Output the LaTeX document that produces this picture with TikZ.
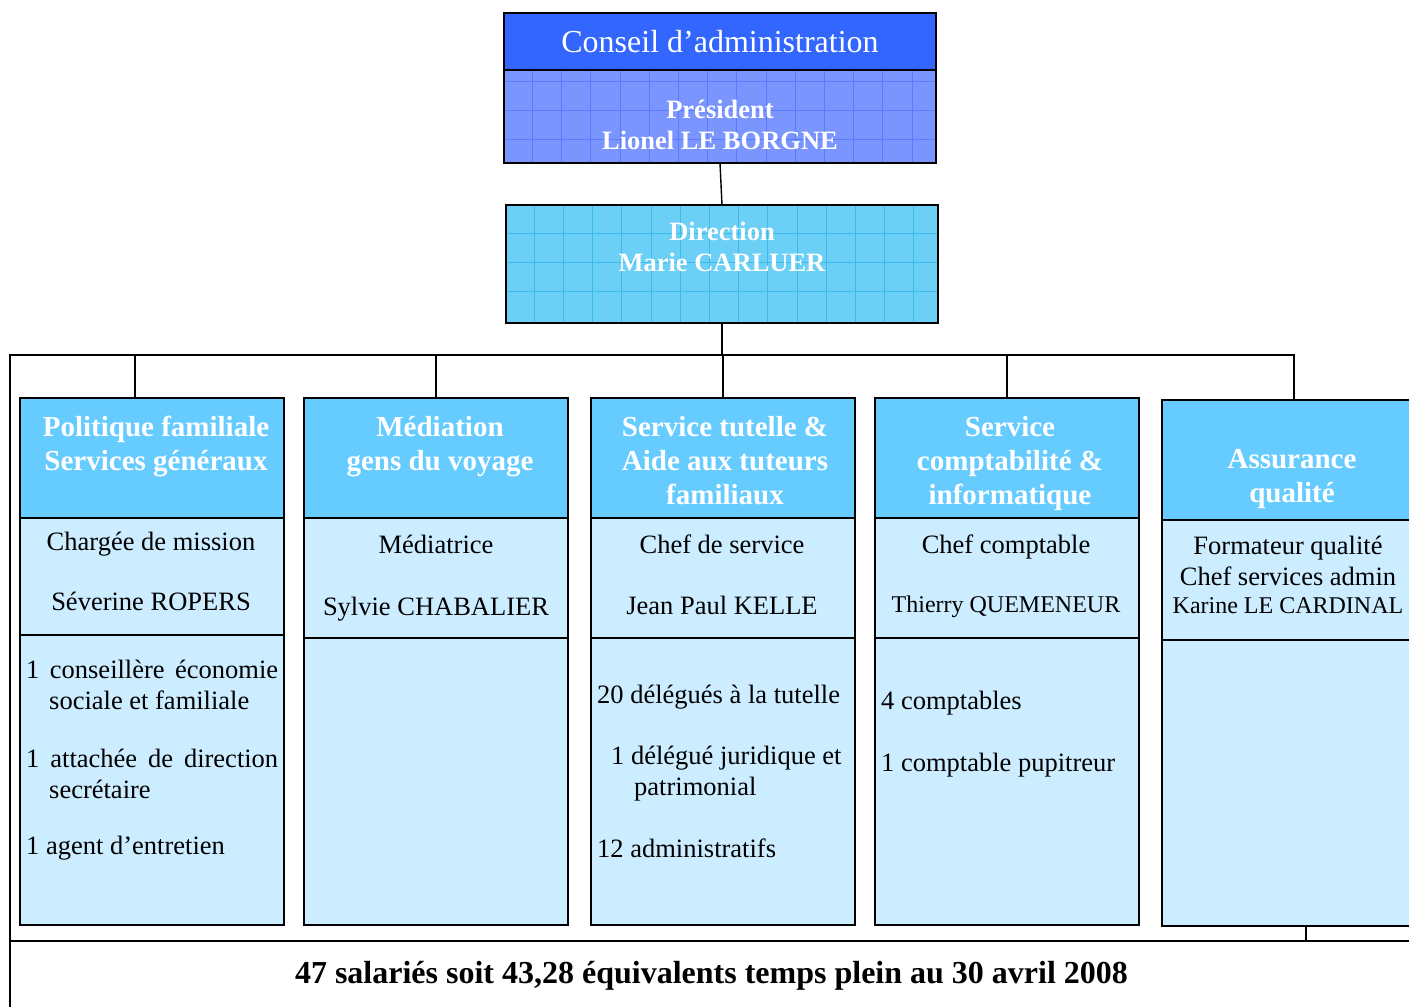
\documentclass[tikz,border=0pt]{standalone}
\usepackage{fontspec}
\setmainfont{Liberation Serif}
\usetikzlibrary{positioning}

\definecolor{conseilblue}{HTML}{3366FF}
\definecolor{presblue}{HTML}{7B95FF}
\definecolor{presgrid}{HTML}{5A7BFF}
\definecolor{dirblue}{HTML}{6CCFF6}
\definecolor{dirgrid}{HTML}{3DB9EA}
\definecolor{headblue}{HTML}{66CCFF}
\definecolor{bodyblue}{HTML}{CCECFF}

\newcommand{\bodyfont}{\fontsize{26.5}{31}\selectfont}
\newcommand{\headfont}{\fontsize{29}{34}\selectfont\bfseries}
\newcommand{\topfont}{\fontsize{26.5}{31}\selectfont\bfseries}
\newcommand{\smallname}{\fontsize{24}{31}\selectfont}

\tikzset{box/.style={draw, line width=1.8pt, inner sep=0pt, outer sep=0pt, anchor=north west}}
\tikzset{head/.style={box, fill=headblue, minimum width=264pt, minimum height=120pt}}
\tikzset{body/.style={box, fill=bodyblue, minimum width=264pt}}
\tikzset{htxt/.style={inner sep=0pt, font=\headfont, text=white, align=center, anchor=base}}
\tikzset{txt/.style={inner sep=0pt, font=\bodyfont, align=center, anchor=base}}
\tikzset{ltxt/.style={inner sep=0pt, font=\bodyfont, align=left, anchor=base west}}
\tikzset{wire/.style={line width=1.4pt}}

\begin{document}
\begin{tikzpicture}[x=1pt, y=-1pt]
\useasboundingbox (0,0) rectangle (1409,1007);
\clip (0,0) rectangle (1409,1007);

% top of the chart
\node[box, fill=conseilblue, minimum width=432pt, minimum height=57pt, text=white,
  font=\fontsize{32}{36}\selectfont] (conseil) at (504,13) {Conseil d’administration};
\node[box, fill=presblue, minimum width=432pt, minimum height=93pt] (president) at (conseil.south west) {};
\begin{scope}
\clip (504,70) rectangle (936,163);
\foreach \gx in {532.5,561.7,...,936} \draw[presgrid, line width=1pt] (\gx,70) -- (\gx,163);
\foreach \gy in {81,110,139} \draw[presgrid, line width=1pt] (504,\gy) -- (936,\gy);
\end{scope}
\draw[line width=1.8pt] (president.north west) rectangle (president.south east);
\node[htxt, font=\topfont] (presT) at (720,149) {Président\\Lionel LE BORGNE};

\node[box, fill=dirblue, minimum width=432pt, minimum height=118pt] (direction) at (506,205) {};
\begin{scope}
\clip (506,205) rectangle (938,323);
\foreach \gx in {534.3,563.5,...,938} \draw[dirgrid, line width=1pt] (\gx,205) -- (\gx,323);
\foreach \gy in {233,262,291.5} \draw[dirgrid, line width=1pt] (506,\gy) -- (938,\gy);
\end{scope}
\draw[line width=1.8pt] (direction.north west) rectangle (direction.south east);
\node[htxt, font=\topfont] (dirT) at (722,271) {Direction\\Marie CARLUER};

% services
\node[head] (polfam) at (20,398) {};
\node[body, minimum height=117pt] (polfamM) at (polfam.south west) {};
\node[body, minimum height=290pt] (polfamB) at (polfamM.south west) {};

\node[head] (mediation) at (304,398) {};
\node[body, minimum height=120pt] (mediationM) at (mediation.south west) {};
\node[body, minimum height=287pt] (mediationB) at (mediationM.south west) {};

\node[head] (tutelle) at (591,398) {};
\node[body, minimum height=120pt] (tutelleM) at (tutelle.south west) {};
\node[body, minimum height=287pt] (tutelleB) at (tutelleM.south west) {};

\node[head] (compta) at (875,398) {};
\node[body, minimum height=120pt] (comptaM) at (compta.south west) {};
\node[body, minimum height=287pt] (comptaB) at (comptaM.south west) {};

\node[head, minimum width=262pt] (qualite) at (1162,400) {};
\node[body, minimum width=262pt, minimum height=120pt] (qualiteM) at (qualite.south west) {};
\node[body, minimum width=262pt, minimum height=286pt] (qualiteB) at (qualiteM.south west) {};

\node[htxt] (polfamT) at (156,470) {Politique familiale\\Services généraux};
\node[htxt] (mediationT) at (440,470) {Médiation\\gens du voyage};
\node[htxt] (tutelleT) at (725,504) {Service tutelle \&\\Aide aux tuteurs\\familiaux};
\node[htxt] (comptaT) at (1010,504) {Service\\comptabilité \&\\informatique};
\node[htxt] (qualiteT) at (1292,502) {Assurance\\qualité};

\node[txt] (polfamN) at (151,610) {Chargée de mission\\[29pt]Séverine ROPERS};
\node[txt] (mediationN) at (436,615) {Médiatrice\\[31pt]Sylvie CHABALIER};
\node[txt] (tutelleN) at (722,614) {Chef de service\\[30pt]Jean Paul KELLE};
\node[txt] (comptaN) at (1006,612) {Chef comptable\\[28pt]{\smallname Thierry QUEMENEUR}};
\node[txt] (qualiteN) at (1288,613) {Formateur qualité\\Chef services admin\\[-3pt]{\smallname Karine LE CARDINAL}};

\node[ltxt] (polfamL) at (26,854) {\makebox[252pt][s]{1 conseillère économie}\\
  \hspace*{23pt}sociale et familiale\\[27pt]
  \makebox[252pt][s]{1 attachée de direction}\\
  \hspace*{23pt}secrétaire\\[25pt]
  1 agent d’entretien};
\node[ltxt] (tutelleL) at (597,857) {20 délégués à la tutelle\\[30pt]
  \hspace*{14pt}1 délégué juridique et\\
  \hspace*{37pt}patrimonial\\[31pt]
  12 administratifs};
\node[ltxt] (comptaL) at (881,771) {4 comptables\\[31pt]1 comptable pupitreur};

% total
\node[box, fill=white, minimum width=1403pt, minimum height=70pt,
  font=\fontsize{32}{36}\selectfont\bfseries] (total) at (10,941)
  {47 salariés soit 43,28 équivalents temps plein au 30 avril 2008};

% links
\coordinate (busL) at (10,355);
\coordinate (busR) at (1294,355);
\coordinate (drop1) at (135,355);
\coordinate (tick) at (1306,941);
\draw[wire] (president.south) -- (direction.north);
\draw[wire] (direction.south) -- (direction.south |- busL);
\draw[wire] (busL |- total.north) -- (busL) -- (busR) -- (busR |- qualite.north);
\draw[wire] (drop1) -- (drop1 |- polfam.north);
\draw[wire] (mediation.north) -- (mediation.north |- busL);
\draw[wire] (tutelle.north) -- (tutelle.north |- busL);
\draw[wire] (compta.north) -- (compta.north |- busL);
\draw[wire] (tick |- qualiteB.south) -- (tick);
\end{tikzpicture}
\end{document}
